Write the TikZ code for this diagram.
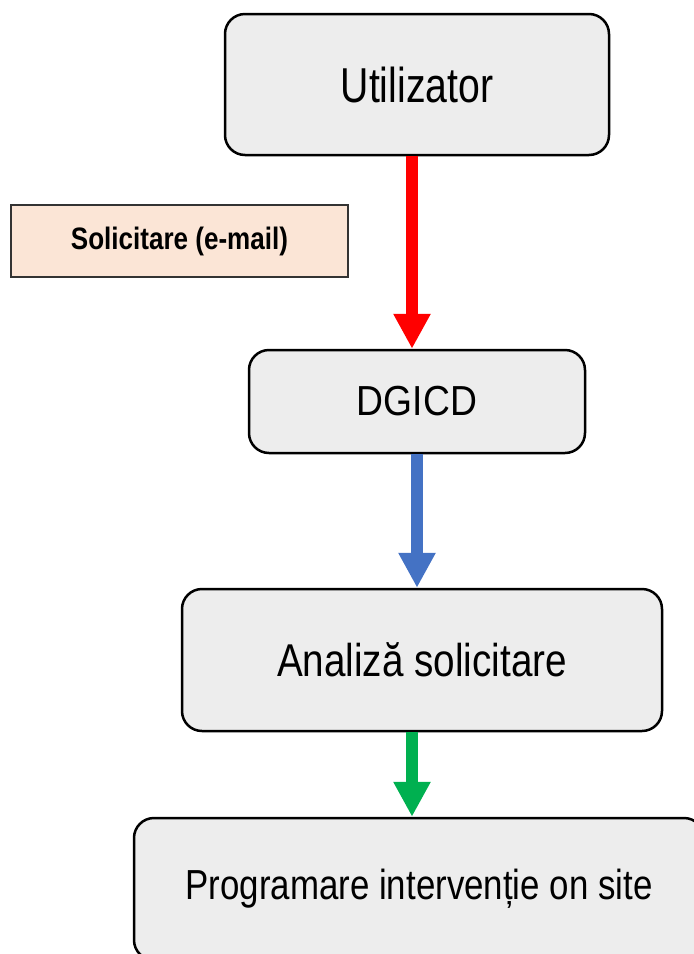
\documentclass[tikz,border=0pt]{standalone}
\usepackage{fontspec}
\setmainfont{Liberation Sans}
\usetikzlibrary{arrows.meta}
\definecolor{boxfill}{HTML}{EDEDED}
\definecolor{labelfill}{HTML}{FBE5D6}
\definecolor{labeldraw}{HTML}{333333}
\definecolor{arrred}{HTML}{FF0000}
\definecolor{arrblue}{HTML}{4472C4}
\definecolor{arrgreen}{HTML}{00B050}
\newfontfamily\condU[FakeStretch=0.80]{Liberation Sans}
\newfontfamily\condD[FakeStretch=0.887]{Liberation Sans}
\newfontfamily\condA[FakeStretch=0.84]{Liberation Sans}
\newfontfamily\condP[FakeStretch=0.83]{Liberation Sans}
\newfontfamily\condL[FakeStretch=0.84]{Liberation Sans}
\begin{document}
\begin{tikzpicture}[x=1pt,y=-1pt,
  stepbox/.style={draw=black, line width=2.5pt, fill=boxfill, rounded corners=20pt, inner sep=0pt, text=black},
  labelbox/.style={draw=labeldraw, line width=2pt, fill=labelfill, inner sep=0pt},
  flowarrow/.style={line width=12pt, -{Triangle[length=35pt,width=35pt]}}
]
\useasboundingbox (0,0) rectangle (694,954);
\clip (0,0) rectangle (694,954);
\node[stepbox, minimum width=384pt, minimum height=141pt] (u) at (417,84.5)
  {\fontsize{49}{58}\condU\selectfont Utilizator};
\node[stepbox, minimum width=336pt, minimum height=103pt] (d) at (417,401.5)
  {\fontsize{42}{50}\condD\selectfont DGICD};
\node[stepbox, minimum width=480pt, minimum height=142pt] (a) at (422,660)
  {\fontsize{46}{55}\condA\selectfont Analiză solicitare};
\node[stepbox, minimum width=570pt, minimum height=142pt] (p) at (419,889)
  {\fontsize{42}{50}\condP\selectfont Programare intervenție on site};
\node[labelbox, minimum width=337pt, minimum height=72pt] (l) at (179.5,241)
  {\fontsize{31}{37}\condL\selectfont\bfseries Solicitare (e-mail)};
\coordinate (xr) at (412,0);
\coordinate (xb) at (417,0);
\draw[flowarrow, arrred] (u.south -| xr) -- (d.north -| xr);
\draw[flowarrow, arrblue] (d.south -| xb) -- (a.north -| xb);
\draw[flowarrow, arrgreen] (a.south -| xr) -- (p.north -| xr);
\end{tikzpicture}
\end{document}
